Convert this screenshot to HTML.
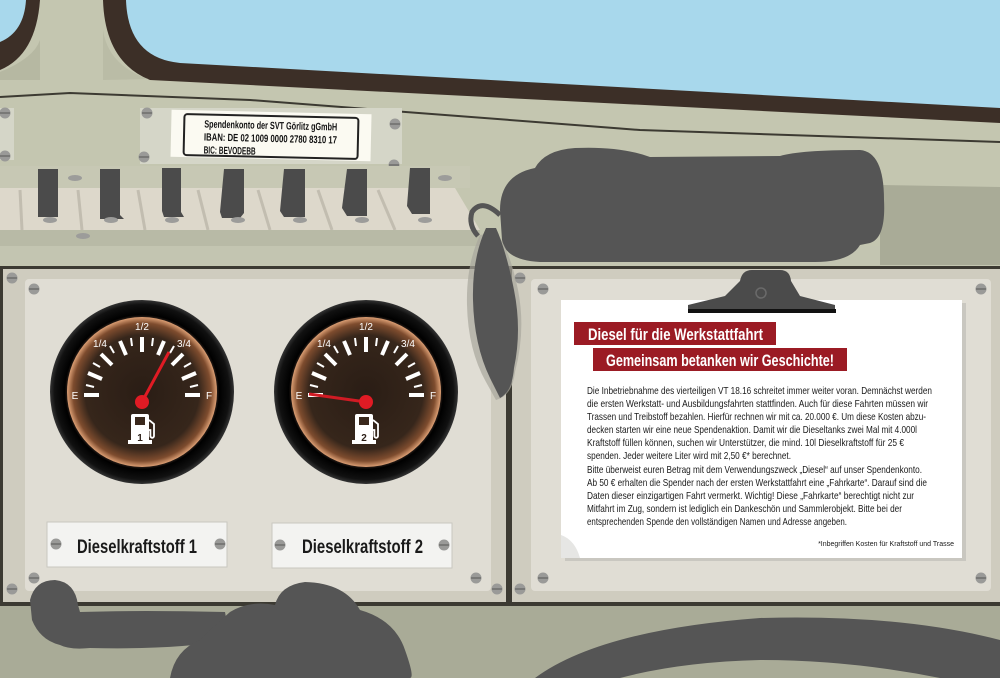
<!DOCTYPE html>
<html><head><meta charset="utf-8"><style>
html,body{margin:0;padding:0;width:1000px;height:678px;overflow:hidden;background:#c4c6b0}
svg{display:block}
text{font-family:"Liberation Sans Narrow","Liberation Sans",sans-serif}
</style></head><body>
<svg width="1000" height="678" viewBox="0 0 1000 678" xmlns="http://www.w3.org/2000/svg">
<defs>
<radialGradient id="dial" cx="50%" cy="50%" r="50%">
<stop offset="0" stop-color="#2a1d15"/><stop offset="0.76" stop-color="#36261b"/><stop offset="0.92" stop-color="#7e4c2e"/><stop offset="1" stop-color="#dc9f74"/>
</radialGradient>
<radialGradient id="ring" cx="50%" cy="50%" r="50%">
<stop offset="0.8" stop-color="#3a2a22"/><stop offset="0.84" stop-color="#000"/><stop offset="0.95" stop-color="#111"/><stop offset="1" stop-color="#333"/>
</radialGradient>
<g id="screw"><circle r="5.5" fill="#9a9a98"/><line x1="-5" y1="0" x2="5" y2="0" stroke="#6e6e6c" stroke-width="1.5"/></g>
<g id="gauge">
<circle r="92" fill="url(#ring)"/>
<circle r="75" fill="url(#dial)"/>
<g stroke="#fff" stroke-linecap="butt">
<g stroke-width="4">
<line x1="-58" y1="3" x2="-43" y2="3"/><line x1="58" y1="3" x2="43" y2="3"/>
<line x1="0" y1="-55" x2="0" y2="-40"/>
<line x1="-41" y1="-38" x2="-30" y2="-27"/><line x1="41" y1="-38" x2="30" y2="-27"/>
<line x1="-54" y1="-19" x2="-40" y2="-13"/><line x1="54" y1="-19" x2="40" y2="-13"/>
<line x1="-22" y1="-51" x2="-16" y2="-37"/><line x1="22" y1="-51" x2="16" y2="-37"/>
</g>
<g stroke-width="2">
<line x1="-56" y1="-7" x2="-48" y2="-5"/><line x1="56" y1="-7" x2="48" y2="-5"/>
<line x1="-49" y1="-29" x2="-42" y2="-25"/><line x1="49" y1="-29" x2="42" y2="-25"/>
<line x1="-32" y1="-46" x2="-28" y2="-39"/><line x1="32" y1="-46" x2="28" y2="-39"/>
<line x1="-11" y1="-54" x2="-10" y2="-46"/><line x1="11" y1="-54" x2="10" y2="-46"/>
</g></g>
<g fill="#fff" font-size="10" text-anchor="middle">
<text x="-67" y="7">E</text><text x="67" y="7">F</text>
<text x="0" y="-62">1/2</text><text x="-42" y="-45">1/4</text><text x="42" y="-45">3/4</text>
</g>
<g fill="#fff">
<rect x="-11" y="22" width="18" height="28" rx="2"/><rect x="-14" y="48" width="24" height="4"/>
<rect x="-7" y="25" width="10" height="8" fill="#3a281c"/>
<path d="M7 28 l5 4 v12 a1.8 1.8 0 0 1 -3.6 0 v-6 h-2" fill="none" stroke="#fff" stroke-width="1.8"/>
</g>
</g>
</defs>

<!-- frame -->
<rect width="1000" height="130" fill="#3c2f27"/>
<path d="M126 0 Q128 58 180 63 L1000 108 L1000 0 Z" fill="#a8d8ec"/>
<path d="M0 0 L26 0 Q24 32 0 42 Z" fill="#a8d8ec"/>
<path d="M40 0 L103 0 Q105 62 150 80 L0 82 L0 70 Q36 55 40 0 Z" fill="#c4c6b0"/>
<path d="M0 72 Q34 58 40 40 L40 80 L0 82 Z" fill="#b6b8a2"/>
<path d="M103 30 Q108 65 148 79 L103 80 Z" fill="#babca6"/>
<!-- dashboard top -->
<path d="M0 80 L150 80 L1000 123 L1000 265 L0 265 Z" fill="#c4c6b0"/>
<path d="M880 185 L1000 187 L1000 265 L880 265 Z" fill="#a9ab97"/>
<polyline points="0,97 70,93 250,100 640,130 1000,142" stroke="#3c3a32" stroke-width="2" fill="none"/>
<path d="M0 108 L14 108 L14 160 L0 160 Z" fill="#d5d6c8"/>
<rect x="140" y="108" width="262" height="56" fill="#d5d6c8"/>
<use href="#screw" x="5" y="113"/><use href="#screw" x="5" y="156"/>
<use href="#screw" x="147" y="113"/><use href="#screw" x="144" y="157"/>
<use href="#screw" x="395" y="124"/><use href="#screw" x="394" y="165"/>
<!-- plate -->
<g transform="rotate(1.3 270 137)">
<rect x="171" y="112" width="200" height="47" fill="#fbfaf2"/>
<rect x="184" y="116" width="174" height="41" rx="3" fill="none" stroke="#222" stroke-width="2"/>
<g fill="#111" font-size="10.5" font-weight="bold"><text x="204" y="129" textLength="133" lengthAdjust="spacingAndGlyphs">Spendenkonto der SVT Görlitz gGmbH</text>
<text x="204" y="142" textLength="133" lengthAdjust="spacingAndGlyphs">IBAN: DE 02 1009 0000 2780 8310 17</text>
<text x="204" y="155" textLength="52" lengthAdjust="spacingAndGlyphs">BIC: BEVODEBB</text></g>
</g>
<!-- switch strip -->
<rect x="0" y="166" width="470" height="22" fill="#c7c8b4"/>
<path d="M0 188 L455 188 L480 230 L0 230 Z" fill="#ddd8cb"/>
<g stroke="#c2bdb0" stroke-width="3">
<line x1="20" y1="190" x2="22" y2="230"/><line x1="78" y1="190" x2="82" y2="230"/><line x1="138" y1="190" x2="145" y2="230"/>
<line x1="198" y1="190" x2="208" y2="230"/><line x1="258" y1="190" x2="270" y2="230"/><line x1="318" y1="190" x2="332" y2="230"/><line x1="378" y1="190" x2="395" y2="230"/>
</g>
<rect x="0" y="230" width="480" height="16" fill="#b8baa6"/>
<rect x="0" y="246" width="880" height="19" fill="#c3c5b1"/>
<g fill="#4b4b4b">
<path d="M38 169 h20 v48 h-20z"/><path d="M100 169 h20 v46 l4 4 h-24z"/>
<path d="M162 168 h19 v44 l3 5 h-20 l-2 -6z"/><path d="M224 169 h20 v44 l-4 5 h-18 l-2 -6z"/>
<path d="M284 169 h21 v48 h-21 l-4 -6z"/><path d="M347 169 h20 v47 h-20 l-5 -8z"/><path d="M410 168 h20 v46 h-18 l-5 -8z"/>
</g>
<g fill="#9c9c9a">
<ellipse cx="50" cy="220" rx="7" ry="3"/><ellipse cx="111" cy="220" rx="7" ry="3"/><ellipse cx="172" cy="220" rx="7" ry="3"/>
<ellipse cx="238" cy="220" rx="7" ry="3"/><ellipse cx="300" cy="220" rx="7" ry="3"/><ellipse cx="362" cy="220" rx="7" ry="3"/><ellipse cx="425" cy="220" rx="7" ry="3"/>
<ellipse cx="83" cy="236" rx="7" ry="3"/><ellipse cx="75" cy="178" rx="7" ry="3"/><ellipse cx="445" cy="178" rx="7" ry="3"/>
</g>
<!-- lower panels -->
<rect x="0" y="266" width="1000" height="340" fill="#3c3a32"/>
<rect x="3" y="269" width="503" height="333" fill="#cfccbf"/>
<rect x="512" y="269" width="488" height="333" fill="#cfccbf"/>
<rect x="25" y="279" width="466" height="312" rx="4" fill="#e0ddd4"/>
<rect x="531" y="279" width="460" height="312" rx="4" fill="#e0ddd4"/>
<use href="#screw" x="12" y="278"/><use href="#screw" x="34" y="289"/><use href="#screw" x="12" y="589"/><use href="#screw" x="34" y="578"/>
<use href="#screw" x="497" y="278"/><use href="#screw" x="476" y="578"/><use href="#screw" x="497" y="589"/>
<use href="#screw" x="520" y="278"/><use href="#screw" x="543" y="289"/><use href="#screw" x="520" y="589"/><use href="#screw" x="543" y="578"/>
<use href="#screw" x="981" y="289"/><use href="#screw" x="981" y="578"/>
<!-- gauges -->
<use href="#gauge" x="142" y="392"/>
<use href="#gauge" x="366" y="392"/>
<text x="140" y="441" font-size="10" fill="#2c1f17" text-anchor="middle" font-weight="bold">1</text>
<text x="364" y="441" font-size="10" fill="#2c1f17" text-anchor="middle" font-weight="bold">2</text>
<line x1="142" y1="402" x2="169" y2="352" stroke="#e01b24" stroke-width="3"/>
<circle cx="142" cy="402" r="7" fill="#e01b24"/>
<line x1="366" y1="402" x2="309" y2="394" stroke="#d01b24" stroke-width="3"/>
<circle cx="366" cy="402" r="7" fill="#e01b24"/>
<!-- labels -->
<rect x="47" y="522" width="180" height="45" fill="#f3f3f1" stroke="#c9c7bf"/>
<rect x="272" y="523" width="180" height="45" fill="#f3f3f1" stroke="#c9c7bf"/>
<use href="#screw" x="56" y="544"/><use href="#screw" x="220" y="544"/><use href="#screw" x="280" y="545"/><use href="#screw" x="444" y="545"/>
<text x="77" y="553" font-size="19" font-weight="bold" fill="#1a1a1a" textLength="120" lengthAdjust="spacingAndGlyphs">Dieselkraftstoff 1</text>
<text x="302" y="553" font-size="19" font-weight="bold" fill="#1a1a1a" textLength="121" lengthAdjust="spacingAndGlyphs">Dieselkraftstoff 2</text>
<!-- paper -->
<rect x="565" y="303" width="401" height="258" fill="#c9c7c0"/>
<rect x="561" y="300" width="401" height="258" fill="#fff"/>
<path d="M561 535 Q575 540 580 558 L561 558 Z" fill="#e6e6e4"/>
<!-- clip -->
<path d="M740 281 Q742 270 752 270 L780 270 Q790 270 791 281 L800 296 L835 305 L835 312 L688 312 L688 305 L725 296 Z" fill="#4b4b4b"/>
<rect x="688" y="309" width="148" height="4" fill="#111"/>
<circle cx="761" cy="293" r="5" fill="none" stroke="#6a6a6a" stroke-width="1.5"/>
<!-- headings -->
<rect x="574" y="322" width="202" height="23" fill="#9b1b24"/>
<rect x="593" y="348" width="254" height="23" fill="#9b1b24"/>
<text x="588" y="340" font-size="17" font-weight="bold" fill="#fff" textLength="175" lengthAdjust="spacingAndGlyphs">Diesel für die Werkstattfahrt</text>
<text x="606" y="366" font-size="17" font-weight="bold" fill="#fff" textLength="228" lengthAdjust="spacingAndGlyphs">Gemeinsam betanken wir Geschichte!</text>
<g font-size="10.5" fill="#1a1a1a">
<text x="587" y="394" textLength="345" lengthAdjust="spacingAndGlyphs">Die Inbetriebnahme des vierteiligen VT 18.16 schreitet immer weiter voran. Demnächst werden</text>
<text x="587" y="407" textLength="341" lengthAdjust="spacingAndGlyphs">die ersten Werkstatt- und Ausbildungsfahrten stattfinden. Auch für diese Fahrten müssen wir</text>
<text x="587" y="420" textLength="339" lengthAdjust="spacingAndGlyphs">Trassen und Treibstoff bezahlen. Hierfür rechnen wir mit ca. 20.000 €. Um diese Kosten abzu-</text>
<text x="587" y="433" textLength="330" lengthAdjust="spacingAndGlyphs">decken starten wir eine neue Spendenaktion. Damit wir die Dieseltanks zwei Mal mit 4.000l</text>
<text x="587" y="446" textLength="317" lengthAdjust="spacingAndGlyphs">Kraftstoff füllen können, suchen wir Unterstützer, die mind. 10l Dieselkraftstoff für 25 €</text>
<text x="587" y="459" textLength="204" lengthAdjust="spacingAndGlyphs">spenden. Jeder weitere Liter wird mit 2,50 €* berechnet.</text>
<text x="587" y="473" textLength="335" lengthAdjust="spacingAndGlyphs">Bitte überweist euren Betrag mit dem Verwendungszweck „Diesel“ auf unser Spendenkonto.</text>
<text x="587" y="486" textLength="340" lengthAdjust="spacingAndGlyphs">Ab 50 € erhalten die Spender nach der ersten Werkstattfahrt eine „Fahrkarte“. Darauf sind die</text>
<text x="587" y="499" textLength="327" lengthAdjust="spacingAndGlyphs">Daten dieser einzigartigen Fahrt vermerkt. Wichtig! Diese „Fahrkarte“ berechtigt nicht zur</text>
<text x="587" y="512" textLength="315" lengthAdjust="spacingAndGlyphs">Mitfahrt im Zug, sondern ist lediglich ein Dankeschön und Sammlerobjekt. Bitte bei der</text>
<text x="587" y="525" textLength="260" lengthAdjust="spacingAndGlyphs">entsprechenden Spende den vollständigen Namen und Adresse angeben.</text>
</g>
<text x="954" y="546" font-size="7" fill="#1a1a1a" text-anchor="end">*Inbegriffen Kosten für Kraftstoff und Trasse</text>
<!-- extinguisher -->
<path d="M500 210 Q500 175 535 168 Q545 150 575 148 Q620 146 650 157 L780 156 Q800 150 860 150 Q884 152 884 200 Q886 238 870 243 L860 245 Q850 262 815 262 L540 262 Q505 260 502 240 Z" fill="#555"/>
<path d="M500 215 Q482 198 472 212 Q468 225 478 236" fill="none" stroke="#555" stroke-width="5"/>
<path d="M480 235 Q466 265 467 305 Q468 350 486 382 L496 400 Q512 396 515 372 Q526 330 518 290 Q510 250 496 232 Z" fill="#a8a69c" opacity="0.7"/>
<path d="M486 228 Q472 258 473 300 Q474 345 490 378 L500 398 Q512 392 514 368 Q522 330 514 290 Q506 250 496 228 Z" fill="#555"/>
<!-- bottom area -->
<rect x="0" y="606" width="1000" height="72" fill="#a9ab97"/>
<g fill="#555">
<path d="M30 600 Q35 580 55 580 Q75 582 78 605 L80 612 Q140 610 225 612 L230 640 Q175 650 90 648 Q70 650 60 645 Q40 640 32 620 Z"/>
<path d="M230 612 Q250 600 275 605 Q280 585 305 582 Q345 583 360 610 Q395 620 405 650 Q415 678 410 678 L170 678 Q175 650 200 640 Q215 625 230 612 Z"/>
<path d="M535 678 Q600 630 760 618 Q900 614 1000 640 L1000 678 L940 678 Q850 660 760 660 Q680 662 620 678 Z"/>
</g>
</svg>
</body></html>
